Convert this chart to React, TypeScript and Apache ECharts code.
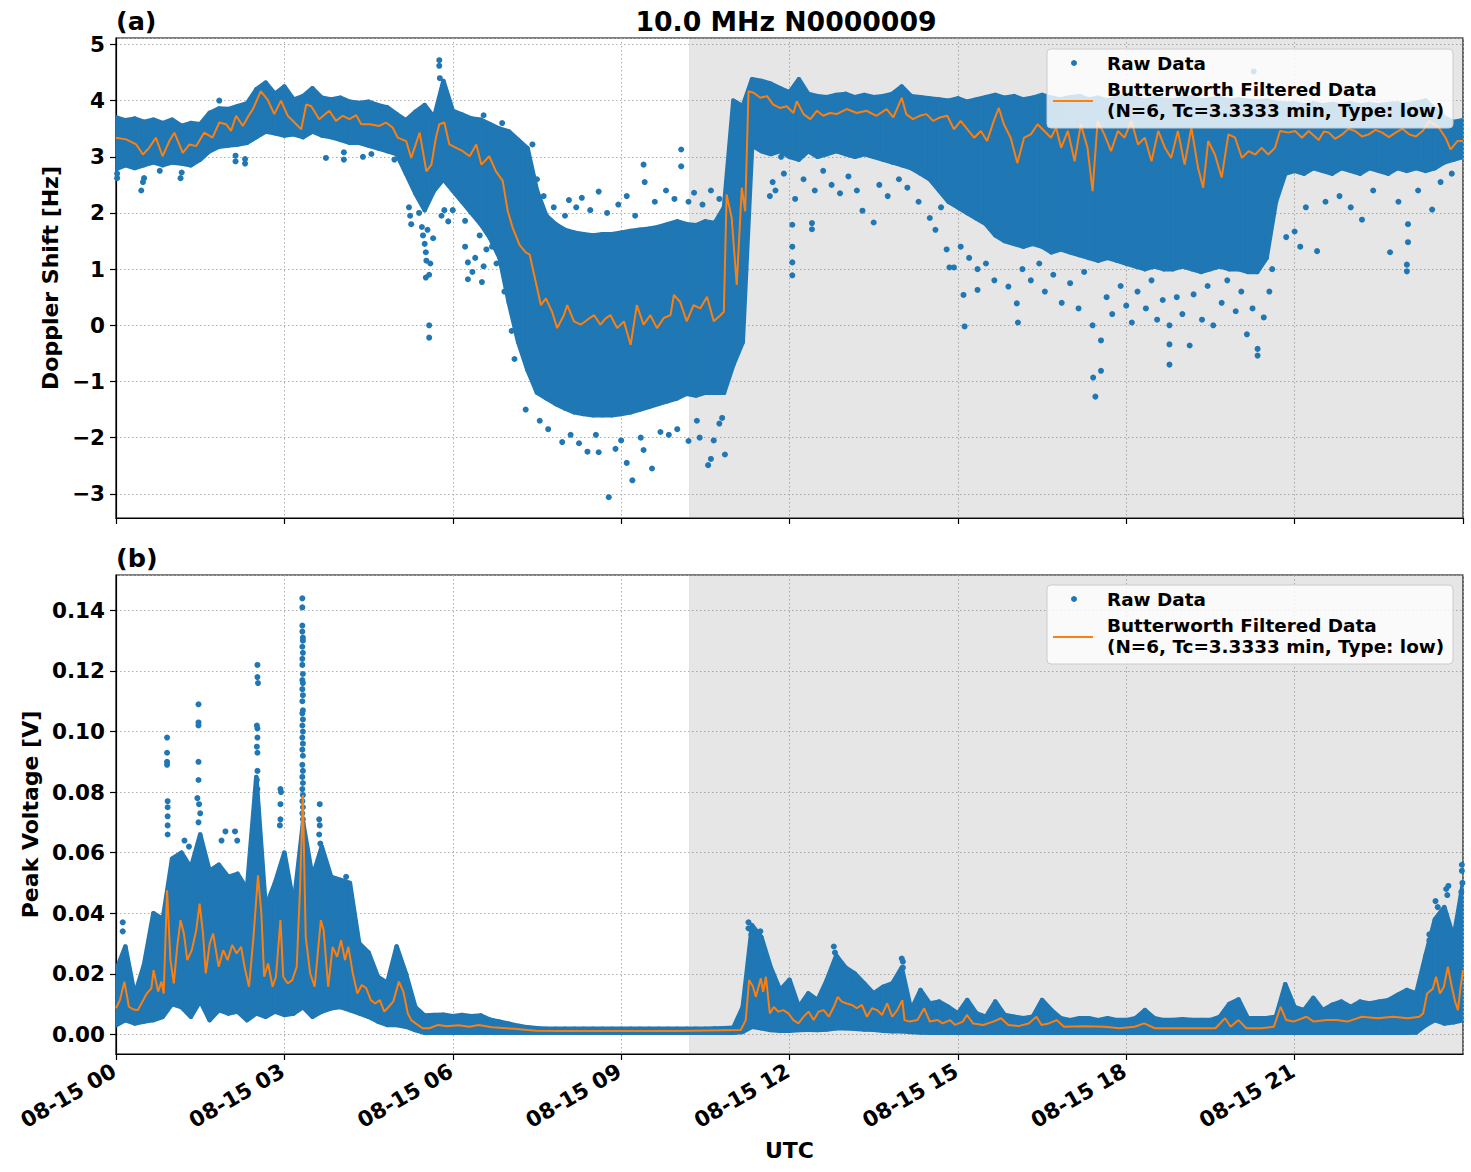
import React, { useEffect, useRef } from "react";
import * as echarts from "echarts";

const BLUE = "#1f77b4";
const ORANGE = "#ff7f0e";
const FONT = '"DejaVu Sans", "Liberation Sans", sans-serif';

// Raw data is summarised as a dense envelope on a 10-minute grid (0..24 h)
const BIN_HOURS = Array.from({ length: 145 }, (_, i) => i / 6);

// ---- Panel (a): Doppler shift [Hz] ----
const dopplerHigh = [
  3.70, 3.65, 3.68, 3.62, 3.66, 3.60, 3.66, 3.55, 3.60, 3.58,
  3.78, 3.86, 3.85, 3.90, 3.95, 4.20, 4.32, 4.12, 4.25, 4.02,
  4.08, 4.22, 4.05, 4.02, 4.05, 3.98, 3.96, 3.98, 3.92, 3.88,
  3.76, 3.65, 3.80, 3.92, 3.70, 4.35, 3.82, 3.75, 3.68, 3.66,
  3.58, 3.50, 3.45, 3.30, 3.15, 2.40, 1.95, 1.80, 1.70, 1.65,
  1.62, 1.60, 1.62, 1.62, 1.65, 1.68, 1.70, 1.72, 1.75, 1.80,
  1.85, 1.80, 1.78, 1.85, 1.82, 2.10, 4.00, 3.90, 4.38, 4.35,
  4.30, 4.22, 4.15, 4.38, 4.12, 4.08, 4.06, 4.10, 4.12, 4.06,
  4.10, 4.06, 4.08, 4.12, 4.25, 4.08, 4.06, 4.04, 4.02, 4.00,
  4.04, 3.98, 4.02, 4.06, 4.10, 4.05, 4.08, 4.02, 4.05, 4.10,
  4.05, 4.02, 4.06, 4.08, 4.02, 4.05, 4.00, 4.06, 4.08, 4.04,
  4.00, 4.05, 4.02, 4.00, 4.04, 4.06, 4.00, 4.02, 4.05, 4.00,
  4.02, 4.00, 3.98, 4.00, 3.96, 3.95, 3.95, 3.92, 3.95, 3.92,
  3.94, 3.92, 3.95, 3.92, 3.94, 3.92, 3.94, 3.95, 3.93, 3.96,
  4.00, 3.85, 3.70, 3.62, 3.65,
];
const dopplerLow = [
  2.78, 2.85, 2.80, 2.85, 2.90, 2.85, 2.90, 2.88, 2.85, 2.95,
  3.10, 3.18, 3.20, 3.22, 3.25, 3.35, 3.45, 3.42, 3.38, 3.40,
  3.35, 3.45, 3.38, 3.35, 3.30, 3.25, 3.25, 3.20, 3.15, 3.10,
  3.05, 2.70, 2.35, 2.05, 2.40, 2.60, 2.40, 2.20, 2.00, 1.80,
  1.55, 1.20, 0.40, -0.30, -0.80, -1.20, -1.30, -1.40, -1.48, -1.55,
  -1.58, -1.60, -1.60, -1.60, -1.58, -1.55, -1.50, -1.45, -1.40, -1.35,
  -1.30, -1.22, -1.25, -1.20, -1.20, -1.20, -0.70, -0.30, 3.20, 3.10,
  3.05, 3.10, 3.00, 2.95, 3.10, 3.00, 3.05, 3.10, 3.05, 3.00,
  3.05, 3.00, 2.95, 2.90, 2.85, 2.80, 2.70, 2.60, 2.40, 2.20,
  2.10, 2.00, 1.90, 1.80, 1.60, 1.50, 1.45, 1.40, 1.45, 1.40,
  1.30, 1.35, 1.30, 1.25, 1.20, 1.15, 1.20, 1.15, 1.10, 1.05,
  1.00, 1.05, 1.00, 1.00, 1.05, 1.00, 0.95, 1.00, 1.05, 1.00,
  1.00, 0.95, 0.95, 1.20, 2.20, 2.70, 2.75, 2.70, 2.80, 2.75,
  2.70, 2.80, 2.75, 2.70, 2.80, 2.75, 2.70, 2.80, 2.75, 2.80,
  2.75, 2.80, 2.90, 2.95, 3.00,
];
const dopplerFilteredHours = [
  0.00, 0.18, 0.36, 0.48, 0.59, 0.71, 0.83, 0.95, 1.04, 1.19, 1.31, 1.43, 1.57, 1.72, 1.84, 1.96,
  2.05, 2.14, 2.26, 2.38, 2.44, 2.58, 2.70, 2.82, 2.94, 3.06, 3.21, 3.30, 3.39, 3.48, 3.62, 3.80,
  3.92, 4.04, 4.16, 4.28, 4.37, 4.52, 4.69, 4.81, 4.93, 5.02, 5.17, 5.26, 5.41, 5.53, 5.62, 5.70,
  5.76, 5.85, 5.94, 6.06, 6.18, 6.30, 6.42, 6.51, 6.65, 6.77, 6.89, 6.98, 7.07, 7.19, 7.30, 7.37,
  7.45, 7.57, 7.66, 7.77, 7.86, 7.98, 8.04, 8.16, 8.28, 8.40, 8.52, 8.63, 8.72, 8.81, 8.93, 9.05,
  9.17, 9.28, 9.40, 9.52, 9.64, 9.76, 9.88, 9.94, 10.05, 10.17, 10.29, 10.41, 10.53, 10.65, 10.77, 10.83,
  10.88, 10.97, 11.06, 11.15, 11.21, 11.27, 11.36, 11.48, 11.60, 11.71, 11.83, 11.95, 12.07, 12.13, 12.25, 12.37,
  12.49, 12.60, 12.72, 12.84, 13.02, 13.20, 13.37, 13.55, 13.73, 13.85, 14.00, 14.08, 14.20, 14.32, 14.44, 14.56,
  14.68, 14.81, 14.93, 15.05, 15.17, 15.29, 15.41, 15.52, 15.64, 15.73, 15.82, 15.94, 16.06, 16.18, 16.30, 16.42,
  16.54, 16.66, 16.75, 16.84, 16.96, 17.08, 17.19, 17.31, 17.40, 17.49, 17.61, 17.73, 17.85, 17.97, 18.09, 18.21,
  18.33, 18.45, 18.57, 18.69, 18.80, 18.92, 19.04, 19.16, 19.28, 19.37, 19.46, 19.58, 19.70, 19.82, 19.94, 20.06,
  20.18, 20.30, 20.41, 20.53, 20.65, 20.74, 20.89, 21.01, 21.13, 21.25, 21.34, 21.43, 21.52, 21.61, 21.72, 21.85,
  21.96, 22.08, 22.20, 22.32, 22.44, 22.56, 22.68, 22.80, 22.92, 23.04, 23.16, 23.28, 23.40, 23.57, 23.69, 23.78,
  23.90, 24.00,
];
const dopplerFiltered = [
  3.34, 3.31, 3.22, 3.04, 3.16, 3.34, 3.01, 3.28, 3.43, 3.07, 3.22, 3.19, 3.43, 3.34, 3.61, 3.58,
  3.46, 3.73, 3.55, 3.76, 3.85, 4.17, 4.02, 3.76, 4.00, 3.73, 3.58, 3.49, 3.93, 3.90, 3.67, 3.82,
  3.64, 3.73, 3.67, 3.74, 3.58, 3.58, 3.55, 3.61, 3.52, 3.34, 3.28, 2.98, 3.43, 2.74, 2.86, 3.34,
  3.58, 3.61, 3.22, 3.16, 3.10, 3.01, 3.22, 2.86, 3.01, 2.74, 2.57, 2.03, 1.73, 1.43, 1.30, 1.26,
  0.90, 0.36, 0.48, 0.24, -0.05, 0.18, 0.36, 0.07, 0.01, 0.10, 0.18, 0.01, 0.12, 0.18, -0.05, 0.07,
  -0.35, 0.36, 0.01, 0.18, -0.05, 0.13, 0.18, 0.54, 0.42, 0.07, 0.36, 0.30, 0.51, 0.07, 0.18, 0.24,
  2.33, 1.91, 0.72, 2.45, 2.03, 4.17, 4.14, 4.05, 4.08, 3.93, 3.87, 3.90, 3.78, 3.99, 3.76, 3.67,
  3.82, 3.73, 3.78, 3.76, 3.85, 3.78, 3.82, 3.73, 3.85, 3.70, 4.05, 3.76, 3.67, 3.73, 3.76, 3.64,
  3.70, 3.73, 3.49, 3.64, 3.49, 3.34, 3.46, 3.28, 3.64, 3.87, 3.58, 3.34, 2.89, 3.34, 3.40, 3.58,
  3.46, 3.34, 3.52, 3.16, 3.46, 2.92, 3.58, 3.16, 2.39, 3.64, 3.40, 3.10, 3.46, 3.34, 3.64, 3.22,
  3.34, 2.92, 3.46, 3.16, 2.98, 3.46, 2.86, 3.52, 2.80, 2.45, 3.28, 3.04, 2.63, 3.40, 3.34, 2.98,
  3.10, 3.04, 3.16, 3.04, 3.16, 3.46, 3.43, 3.46, 3.34, 3.46, 3.38, 3.30, 3.45, 3.43, 3.32, 3.40,
  3.50, 3.46, 3.36, 3.40, 3.48, 3.43, 3.35, 3.43, 3.50, 3.40, 3.36, 3.46, 3.64, 3.52, 3.34, 3.13,
  3.28, 3.28,
];
// Isolated raw samples lying outside the dense envelope
const dopplerStray: [number, number][] = [
  [0.02, 2.70], [0.02, 2.62], [0.45, 2.40], [0.48, 2.55], [0.50, 2.62], [0.78, 2.75], [1.15, 2.62], [1.17, 2.72],
  [1.84, 4.00], [2.13, 2.92], [2.13, 3.02], [2.30, 2.88], [2.30, 2.96], [3.74, 2.98], [4.06, 2.95], [4.06, 3.08],
  [4.40, 3.00], [4.55, 3.05], [4.96, 2.95],
  [5.22, 2.10], [5.24, 1.95], [5.26, 1.80], [5.45, 1.75], [5.50, 1.45], [5.52, 1.30], [5.53, 1.15], [5.52, 0.85],
  [5.58, 0.90], [5.58, 0.00], [5.58, -0.22], [5.60, 1.10], [5.65, 1.55], [5.76, 4.72], [5.76, 4.62], [5.77, 4.40],
  [5.80, 1.95], [5.85, 2.05], [5.92, 1.85], [6.00, 2.05], [5.40, 2.00], [5.47, 1.60], [5.55, 1.70],
  [6.22, 1.86], [6.22, 1.40], [6.27, 1.12], [6.27, 0.82], [6.35, 0.95], [6.40, 1.20], [6.48, 1.60], [6.52, 0.77],
  [6.55, 1.05], [6.60, 1.35], [6.55, 3.74], [6.70, 1.40], [6.78, 1.10], [6.88, 3.60], [6.92, 0.60], [7.05, -0.10],
  [7.10, -0.60],
  [7.42, 3.22], [7.50, 2.60], [7.62, 2.30], [7.80, 2.10], [8.07, 2.23], [8.00, 1.95], [8.20, 2.10], [8.30, 2.27],
  [8.45, 2.05], [8.60, 2.38], [8.75, 2.00], [8.95, 2.15], [9.10, 2.30], [9.25, 1.95], [9.40, 2.86], [9.42, 2.55],
  [9.60, 2.20], [9.80, 2.40], [9.95, 2.25], [10.07, 3.13], [10.07, 2.83], [10.20, 2.20], [10.30, 2.36], [10.45, 2.15],
  [10.60, 2.40], [10.75, 2.25],
  [7.30, -1.50], [7.55, -1.70], [7.70, -1.85], [7.95, -2.08], [8.10, -1.95], [8.25, -2.10], [8.40, -2.25],
  [8.55, -1.95], [8.60, -2.26], [8.78, -3.06], [8.90, -2.20], [9.00, -2.05], [9.10, -2.45], [9.20, -2.76],
  [9.35, -2.00], [9.40, -2.22], [9.55, -2.55], [9.70, -1.90], [9.85, -1.95], [10.00, -1.85], [10.20, -2.06],
  [10.35, -1.70], [10.40, -2.00], [10.55, -2.49], [10.60, -2.38], [10.65, -2.05], [10.75, -1.75], [10.85, -2.30],
  [10.80, -1.65],
  [11.65, 2.30], [11.70, 2.55], [11.75, 2.40], [11.85, 3.00], [11.90, 2.70], [12.05, 1.79], [12.05, 1.40],
  [12.05, 1.12], [12.05, 0.89], [12.10, 2.25], [12.25, 2.60], [12.40, 1.82], [12.40, 1.71], [12.45, 2.40],
  [12.60, 2.75], [12.75, 2.50], [12.90, 2.35], [13.05, 2.65], [13.20, 2.40], [13.30, 2.04], [13.50, 1.83],
  [13.60, 2.50], [13.75, 2.30], [13.95, 2.60], [14.10, 2.45], [14.30, 2.20], [14.50, 1.91], [14.60, 1.70],
  [14.80, 1.35], [14.85, 1.03], [14.70, 2.10],
  [14.93, 1.03], [15.05, 1.40], [15.10, 0.54], [15.12, -0.02], [15.20, 1.20], [15.35, 0.63], [15.35, 1.00],
  [15.50, 1.10], [15.65, 0.80], [15.90, 0.69], [16.05, 0.39], [16.07, 0.05], [16.15, 1.00], [16.30, 0.80],
  [16.45, 1.10], [16.55, 0.60], [16.70, 0.90], [16.85, 0.40], [17.00, 0.75], [17.15, 0.30], [17.25, 0.95],
  [17.40, 0.00], [17.41, -0.93], [17.45, -1.27], [17.55, -0.81], [17.55, -0.27], [17.65, 0.50], [17.75, 0.20],
  [17.90, 0.70], [18.00, 0.35], [18.10, 0.05], [18.20, 0.60], [18.35, 0.30], [18.45, 0.80], [18.55, 0.10],
  [18.65, 0.45], [18.77, -0.70], [18.77, -0.34], [18.77, 0.00], [18.90, 0.50], [19.00, 0.20], [19.13, -0.36],
  [19.20, 0.55], [19.35, 0.10], [19.45, 0.70], [19.55, 0.00], [19.70, 0.40], [19.80, 0.80], [19.95, 0.25],
  [20.05, 0.60], [20.15, -0.16], [20.25, 0.30], [20.34, -0.54], [20.34, -0.42], [20.45, 0.14], [20.55, 0.60],
  [20.60, 1.00], [20.27, 4.52],
  [20.85, 1.57], [21.00, 1.67], [21.10, 1.40], [21.20, 2.10], [21.40, 1.32], [21.55, 2.20], [21.80, 2.30],
  [22.00, 2.10], [22.20, 1.88], [22.40, 2.40], [22.70, 1.30], [22.85, 2.20], [23.00, 0.96], [23.00, 1.08],
  [23.02, 1.48], [23.02, 1.80], [23.20, 2.40], [23.45, 2.06], [23.60, 2.55], [23.80, 2.70],
];

// ---- Panel (b): peak voltage [V] ----
const voltageHigh = [
  0.0210, 0.0290, 0.0130, 0.0230, 0.0400, 0.0380, 0.0580, 0.0600, 0.0550, 0.0660,
  0.0540, 0.0560, 0.0520, 0.0530, 0.0480, 0.0850, 0.0420, 0.0500, 0.0600, 0.0430,
  0.0700, 0.0520, 0.0620, 0.0520, 0.0510, 0.0500, 0.0300, 0.0270, 0.0190, 0.0170,
  0.0290, 0.0200, 0.0090, 0.0062, 0.0064, 0.0065, 0.0060, 0.0064, 0.0060, 0.0062,
  0.0048, 0.0042, 0.0035, 0.0028, 0.0023, 0.0020, 0.0018, 0.0018, 0.0018, 0.0018,
  0.0018, 0.0018, 0.0018, 0.0018, 0.0018, 0.0018, 0.0018, 0.0018, 0.0018, 0.0018,
  0.0018, 0.0018, 0.0018, 0.0018, 0.0019, 0.0020, 0.0022, 0.0090, 0.0360, 0.0320,
  0.0220, 0.0146, 0.0180, 0.0090, 0.0135, 0.0113, 0.0180, 0.0260, 0.0220, 0.0200,
  0.0168, 0.0135, 0.0157, 0.0168, 0.0220, 0.0080, 0.0146, 0.0102, 0.0108, 0.0090,
  0.0069, 0.0113, 0.0069, 0.0058, 0.0108, 0.0064, 0.0058, 0.0053, 0.0058, 0.0113,
  0.0080, 0.0053, 0.0047, 0.0053, 0.0053, 0.0047, 0.0053, 0.0047, 0.0047, 0.0053,
  0.0080, 0.0053, 0.0047, 0.0047, 0.0050, 0.0047, 0.0047, 0.0047, 0.0058, 0.0100,
  0.0115, 0.0053, 0.0053, 0.0053, 0.0058, 0.0165, 0.0090, 0.0080, 0.0120, 0.0080,
  0.0097, 0.0108, 0.0090, 0.0108, 0.0102, 0.0108, 0.0113, 0.0130, 0.0146, 0.0135,
  0.0260, 0.0380, 0.0420, 0.0320, 0.0500,
];
const voltageLow = [
  0.0030, 0.0047, 0.0036, 0.0042, 0.0047, 0.0058, 0.0100, 0.0090, 0.0058, 0.0110,
  0.0047, 0.0080, 0.0069, 0.0075, 0.0047, 0.0069, 0.0058, 0.0075, 0.0064, 0.0069,
  0.0090, 0.0058, 0.0075, 0.0086, 0.0090, 0.0080, 0.0069, 0.0058, 0.0042, 0.0031,
  0.0031, 0.0025, 0.0014, 0.0005, 0.0005, 0.0005, 0.0005, 0.0005, 0.0005, 0.0005,
  0.0005, 0.0005, 0.0005, 0.0005, 0.0005, 0.0005, 0.0005, 0.0005, 0.0005, 0.0005,
  0.0005, 0.0005, 0.0005, 0.0005, 0.0005, 0.0005, 0.0005, 0.0005, 0.0005, 0.0005,
  0.0005, 0.0005, 0.0005, 0.0005, 0.0005, 0.0005, 0.0005, 0.0008, 0.0025, 0.0020,
  0.0014, 0.0012, 0.0012, 0.0014, 0.0015, 0.0014, 0.0016, 0.0020, 0.0020, 0.0018,
  0.0016, 0.0015, 0.0012, 0.0010, 0.0010, 0.0008, 0.0006, 0.0005, 0.0005, 0.0005,
  0.0005, 0.0005, 0.0005, 0.0005, 0.0005, 0.0005, 0.0005, 0.0005, 0.0005, 0.0005,
  0.0005, 0.0005, 0.0005, 0.0005, 0.0005, 0.0005, 0.0005, 0.0005, 0.0005, 0.0005,
  0.0005, 0.0005, 0.0005, 0.0005, 0.0005, 0.0005, 0.0005, 0.0005, 0.0005, 0.0005,
  0.0005, 0.0005, 0.0005, 0.0005, 0.0005, 0.0005, 0.0005, 0.0005, 0.0005, 0.0005,
  0.0005, 0.0005, 0.0005, 0.0005, 0.0005, 0.0005, 0.0005, 0.0005, 0.0005, 0.0006,
  0.0030, 0.0047, 0.0036, 0.0040, 0.0047,
];
const voltageFilteredHours = [
  0.00, 0.07, 0.15, 0.23, 0.31, 0.39, 0.47, 0.55, 0.63, 0.67, 0.75, 0.81, 0.85, 0.91, 0.97, 1.03,
  1.09, 1.15, 1.21, 1.27, 1.35, 1.43, 1.49, 1.55, 1.60, 1.67, 1.73, 1.83, 1.91, 1.99, 2.07, 2.15,
  2.23, 2.29, 2.37, 2.45, 2.53, 2.59, 2.64, 2.71, 2.79, 2.85, 2.93, 2.98, 3.06, 3.14, 3.22, 3.28,
  3.33, 3.38, 3.46, 3.54, 3.60, 3.65, 3.70, 3.78, 3.86, 3.94, 4.01, 4.08, 4.14, 4.22, 4.30, 4.38,
  4.46, 4.54, 4.62, 4.70, 4.78, 4.86, 4.94, 5.04, 5.12, 5.20, 5.26, 5.34, 5.46, 5.58, 5.74, 5.90,
  6.10, 6.30, 6.46, 6.70, 7.10, 7.33, 7.49, 8.00, 9.00, 10.00, 11.13, 11.22, 11.28, 11.35, 11.40, 11.49,
  11.53, 11.58, 11.65, 11.72, 11.80, 11.89, 11.98, 12.07, 12.16, 12.25, 12.34, 12.43, 12.52, 12.61, 12.70, 12.79,
  12.86, 12.93, 13.02, 13.11, 13.20, 13.29, 13.38, 13.47, 13.56, 13.65, 13.74, 13.83, 13.92, 14.01, 14.05, 14.14,
  14.28, 14.40, 14.50, 14.64, 14.73, 14.86, 14.95, 15.09, 15.16, 15.27, 15.45, 15.63, 15.77, 15.90, 16.08, 16.26,
  16.40, 16.49, 16.62, 16.76, 16.89, 17.25, 17.61, 17.88, 18.15, 18.32, 18.51, 18.87, 19.23, 19.59, 19.76, 19.86,
  20.00, 20.14, 20.41, 20.63, 20.75, 20.85, 20.98, 21.21, 21.34, 21.57, 21.75, 21.94, 22.20, 22.48, 22.75, 23.02,
  23.22, 23.29, 23.36, 23.46, 23.52, 23.59, 23.66, 23.73, 23.80, 23.86, 23.91, 23.95, 24.00,
];
const voltageFiltered = [
  0.0086, 0.0113, 0.0174, 0.0091, 0.0082, 0.0080, 0.0108, 0.0135, 0.0152, 0.0212, 0.0141, 0.0174, 0.0135, 0.0476, 0.0245, 0.0168,
  0.0289, 0.0377, 0.0333, 0.0245, 0.0278, 0.0344, 0.0432, 0.0333, 0.0201, 0.0300, 0.0333, 0.0223, 0.0278, 0.0245, 0.0295, 0.0267,
  0.0289, 0.0223, 0.0157, 0.0322, 0.0525, 0.0399, 0.0190, 0.0234, 0.0157, 0.0190, 0.0377, 0.0190, 0.0168, 0.0179, 0.0223, 0.0487,
  0.0790, 0.0322, 0.0201, 0.0157, 0.0278, 0.0377, 0.0344, 0.0157, 0.0289, 0.0256, 0.0311, 0.0245, 0.0289, 0.0201, 0.0135, 0.0163,
  0.0152, 0.0113, 0.0102, 0.0113, 0.0075, 0.0091, 0.0108, 0.0174, 0.0141, 0.0069, 0.0047, 0.0036, 0.0020, 0.0020, 0.0031, 0.0027,
  0.0030, 0.0025, 0.0031, 0.0023, 0.0018, 0.0014, 0.0012, 0.0011, 0.0011, 0.0011, 0.0014, 0.0047, 0.0179, 0.0157, 0.0124, 0.0185,
  0.0140, 0.0190, 0.0069, 0.0090, 0.0075, 0.0080, 0.0069, 0.0047, 0.0036, 0.0058, 0.0075, 0.0047, 0.0075, 0.0080, 0.0058, 0.0091,
  0.0124, 0.0108, 0.0102, 0.0097, 0.0086, 0.0097, 0.0058, 0.0086, 0.0080, 0.0064, 0.0102, 0.0058, 0.0080, 0.0113, 0.0047, 0.0042,
  0.0047, 0.0086, 0.0042, 0.0047, 0.0036, 0.0047, 0.0031, 0.0042, 0.0064, 0.0036, 0.0031, 0.0042, 0.0053, 0.0031, 0.0027, 0.0036,
  0.0058, 0.0031, 0.0036, 0.0047, 0.0025, 0.0027, 0.0025, 0.0020, 0.0025, 0.0036, 0.0020, 0.0020, 0.0020, 0.0020, 0.0053, 0.0025,
  0.0047, 0.0020, 0.0020, 0.0025, 0.0091, 0.0047, 0.0042, 0.0058, 0.0042, 0.0047, 0.0047, 0.0042, 0.0058, 0.0053, 0.0058, 0.0053,
  0.0058, 0.0069, 0.0135, 0.0150, 0.0190, 0.0135, 0.0157, 0.0223, 0.0157, 0.0108, 0.0080, 0.0146, 0.0212,
];
const voltageStray: [number, number][] = [
  [0.12, 0.037], [0.12, 0.034],
  [0.91, 0.098], [0.91, 0.093], [0.91, 0.090], [0.91, 0.089], [0.92, 0.077], [0.92, 0.075], [0.92, 0.072],
  [0.92, 0.069], [0.92, 0.066], [1.22, 0.064], [1.30, 0.062],
  [1.47, 0.109], [1.47, 0.103], [1.47, 0.102], [1.47, 0.090], [1.47, 0.084], [1.45, 0.078], [1.48, 0.076],
  [1.50, 0.073], [1.47, 0.070], [1.88, 0.064], [1.95, 0.067], [2.12, 0.067], [2.16, 0.064],
  [2.52, 0.122], [2.52, 0.118], [2.53, 0.116], [2.51, 0.102], [2.52, 0.101], [2.52, 0.098], [2.51, 0.095],
  [2.52, 0.093], [2.52, 0.087], [2.51, 0.084], [2.52, 0.081], [2.50, 0.078], [2.52, 0.075],
  [2.93, 0.081], [2.94, 0.080], [2.93, 0.076], [2.93, 0.071], [2.92, 0.069],
  [3.32, 0.144], [3.32, 0.141], [3.32, 0.135], [3.32, 0.133], [3.33, 0.131], [3.33, 0.130], [3.32, 0.128],
  [3.33, 0.126], [3.32, 0.124], [3.32, 0.122], [3.33, 0.119], [3.32, 0.117], [3.33, 0.116], [3.32, 0.114],
  [3.33, 0.112], [3.32, 0.110], [3.33, 0.107], [3.32, 0.106], [3.33, 0.104], [3.32, 0.102], [3.33, 0.100],
  [3.32, 0.098], [3.33, 0.096], [3.32, 0.094], [3.33, 0.092], [3.32, 0.089], [3.33, 0.087], [3.32, 0.085],
  [3.33, 0.083], [3.32, 0.081], [3.33, 0.079], [3.32, 0.077], [3.33, 0.075], [3.32, 0.073], [3.33, 0.071],
  [3.63, 0.076], [3.62, 0.071], [3.63, 0.069], [3.62, 0.066], [3.64, 0.063], [4.10, 0.052], [4.05, 0.050],
  [11.27, 0.037], [11.27, 0.035], [11.32, 0.033], [11.48, 0.034], [11.48, 0.032], [11.50, 0.030],
  [12.79, 0.029], [12.81, 0.027], [12.85, 0.025], [14.00, 0.025], [14.02, 0.024], [14.02, 0.022],
  [23.36, 0.026], [23.40, 0.033], [23.40, 0.031], [23.51, 0.044], [23.55, 0.042], [23.70, 0.048],
  [23.74, 0.049], [23.72, 0.046], [23.98, 0.056], [23.98, 0.054], [23.99, 0.050], [23.97, 0.047],
];

// Span of the grey-shaded interval (hours)
const shadeSpan = [10.22, 24];

const legendLabels = ["Raw Data", "Butterworth Filtered Data", "(N=6, Tc=3.3333 min, Type: low)"];

function bandItems(lo: number[], hi: number[]) {
  const items: number[][] = [];
  for (let i = 0; i < BIN_HOURS.length - 1; i++) {
    items.push([BIN_HOURS[i], lo[i], hi[i], BIN_HOURS[i + 1], lo[i + 1], hi[i + 1]]);
  }
  return items;
}

function pairs(xs: number[], ys: number[]) {
  return xs.map((x, i) => [x, ys[i]]);
}

const renderBand = (_params: any, api: any) => {
  const a = api.coord([api.value(0), api.value(2)]);
  const b = api.coord([api.value(3), api.value(5)]);
  const c = api.coord([api.value(3), api.value(4)]);
  const d = api.coord([api.value(0), api.value(1)]);
  return {
    type: "polygon",
    shape: { points: [a, b, c, d] },
    style: { fill: BLUE, stroke: BLUE, lineWidth: 4.5, lineJoin: "round" },
  };
};

const renderShade = (params: any, api: any) => {
  const cs = params.coordSys;
  const x0 = api.coord([api.value(0), api.value(2)])[0];
  const x1 = api.coord([api.value(1), api.value(2)])[0];
  return {
    type: "rect",
    shape: { x: x0, y: cs.y, width: x1 - x0, height: cs.height },
    style: { fill: "rgba(128,128,128,0.2)", stroke: "rgba(128,128,128,0.15)", lineWidth: 1 },
  };
};

const tickFont = { color: "#000", fontFamily: FONT, fontWeight: "bold" as const, fontSize: 21.5 };
const nameFont = { color: "#000", fontFamily: FONT, fontWeight: "bold" as const, fontSize: 22 };
const axisLine = { show: true, onZero: false, lineStyle: { color: "#000", width: 1.2 } };
const axisTick = { show: true, length: 6, lineStyle: { color: "#000", width: 1.2 } };
const splitLine = { show: true, lineStyle: { color: "#b0b0b0", width: 1, type: [1.5, 2.5] } };

function legendGraphics(top: number) {
  const txt = (text: string, y: number) => ({
    type: "text",
    z: 101,
    style: {
      text,
      x: 1107,
      y,
      fill: "#000",
      fontFamily: FONT,
      fontWeight: "bold",
      fontSize: 18.4,
      textVerticalAlign: "middle",
      textAlign: "left",
    },
  });
  return [
    {
      type: "rect",
      z: 100,
      shape: { x: 1047, y: top, width: 406, height: 79, r: 4 },
      style: { fill: "rgba(255,255,255,0.8)", stroke: "#cccccc", lineWidth: 1 },
    },
    { type: "circle", z: 101, shape: { cx: 1074, cy: top + 14, r: 3 }, style: { fill: BLUE } },
    txt(legendLabels[0], top + 14),
    {
      type: "line",
      z: 101,
      shape: { x1: 1053, y1: top + 52, x2: 1093, y2: top + 52 },
      style: { stroke: ORANGE, lineWidth: 2 },
    },
    txt(legendLabels[1], top + 40),
    txt(legendLabels[2], top + 61),
  ];
}

function panelSeries(idx: number, lo: number[], hi: number[], stray: [number, number][], fh: number[], fv: number[]) {
  return [
    {
      type: "custom",
      xAxisIndex: idx,
      yAxisIndex: idx,
      z: 1,
      silent: true,
      renderItem: renderShade,
      encode: { x: [0, 1], y: [2] },
      data: [[shadeSpan[0], shadeSpan[1], 0]],
    },
    {
      type: "custom",
      xAxisIndex: idx,
      yAxisIndex: idx,
      z: 2,
      clip: true,
      silent: true,
      renderItem: renderBand,
      encode: { x: [0, 3], y: [1, 2, 4, 5] },
      data: bandItems(lo, hi),
    },
    {
      type: "scatter",
      xAxisIndex: idx,
      yAxisIndex: idx,
      z: 3,
      clip: true,
      silent: true,
      symbolSize: 6,
      itemStyle: { color: BLUE, opacity: 1 },
      data: stray,
    },
    {
      type: "line",
      xAxisIndex: idx,
      yAxisIndex: idx,
      z: 4,
      clip: true,
      silent: true,
      showSymbol: false,
      lineStyle: { color: ORANGE, width: 2 },
      data: pairs(fh, fv),
    },
  ];
}

export default function App() {
  const ref = useRef<HTMLDivElement>(null);

  useEffect(() => {
    if (!ref.current) return;
    const chart = echarts.init(ref.current, undefined, { renderer: "svg" });

    const xBase = {
      type: "value",
      min: 0,
      max: 24,
      interval: 3,
      axisLine,
      axisTick,
      splitLine,
    };

    chart.setOption({
      animation: false,
      backgroundColor: "#fff",
      grid: [
        { left: 116, top: 38, width: 1347, height: 480, show: true, borderColor: "#000", borderWidth: 1.2 },
        { left: 116, top: 575, width: 1347, height: 479, show: true, borderColor: "#000", borderWidth: 1.2 },
      ],
      xAxis: [
        { ...xBase, gridIndex: 0, axisLabel: { show: false } },
        {
          ...xBase,
          gridIndex: 1,
          name: "UTC",
          nameLocation: "middle",
          nameGap: 85,
          nameTextStyle: nameFont,
          axisLabel: {
            ...tickFont,
            rotate: 30,
            margin: 14,
            padding: [0, 2, 0, 0],
            showMaxLabel: false,
            formatter: (v: number) => `08-15 ${String(Math.round(v)).padStart(2, "0")}`,
          },
        },
      ],
      yAxis: [
        {
          type: "value",
          gridIndex: 0,
          min: -3.431,
          max: 5.115,
          splitNumber: 8,
          minInterval: 1,
          maxInterval: 1,
          axisLine,
          axisTick,
          splitLine,
          name: "Doppler Shift [Hz]",
          nameLocation: "middle",
          nameGap: 42,
          nameTextStyle: nameFont,
          axisLabel: {
            ...tickFont,
            margin: 11,
            showMinLabel: false,
            showMaxLabel: false,
            formatter: (v: number) => (v < 0 ? "\u2212" + Math.abs(v) : String(v)),
          },
        },
        {
          type: "value",
          gridIndex: 1,
          min: -0.0065,
          max: 0.1517,
          splitNumber: 8,
          minInterval: 0.02,
          maxInterval: 0.02,
          axisLine,
          axisTick,
          splitLine,
          name: "Peak Voltage [V]",
          nameLocation: "middle",
          nameGap: 66,
          nameTextStyle: nameFont,
          axisLabel: {
            ...tickFont,
            margin: 11,
            showMinLabel: false,
            showMaxLabel: false,
            formatter: (v: number) => v.toFixed(2),
          },
        },
      ],
      series: [
        ...panelSeries(0, dopplerLow, dopplerHigh, dopplerStray, dopplerFilteredHours, dopplerFiltered),
        ...panelSeries(1, voltageLow, voltageHigh, voltageStray, voltageFilteredHours, voltageFiltered),
      ],
      graphic: [
        {
          type: "text",
          z: 100,
          style: {
            text: "10.0 MHz N0000009",
            x: 786,
            y: 21,
            fill: "#000",
            fontFamily: FONT,
            fontWeight: "bold",
            fontSize: 26.7,
            textAlign: "center",
            textVerticalAlign: "middle",
          },
        },
        {
          type: "text",
          z: 100,
          style: {
            text: "(a)",
            x: 116,
            y: 21,
            fill: "#000",
            fontFamily: FONT,
            fontWeight: "bold",
            fontSize: 25.5,
            textAlign: "left",
            textVerticalAlign: "middle",
          },
        },
        {
          type: "text",
          z: 100,
          style: {
            text: "(b)",
            x: 116,
            y: 558,
            fill: "#000",
            fontFamily: FONT,
            fontWeight: "bold",
            fontSize: 25.5,
            textAlign: "left",
            textVerticalAlign: "middle",
          },
        },
        ...legendGraphics(49),
        ...legendGraphics(585),
      ],
    });

    return () => chart.dispose();
  }, []);

  return (
    <div
      ref={ref}
      style={{ position: "fixed", left: 0, top: 0, width: 1471, height: 1172, background: "#fff" }}
    />
  );
}
